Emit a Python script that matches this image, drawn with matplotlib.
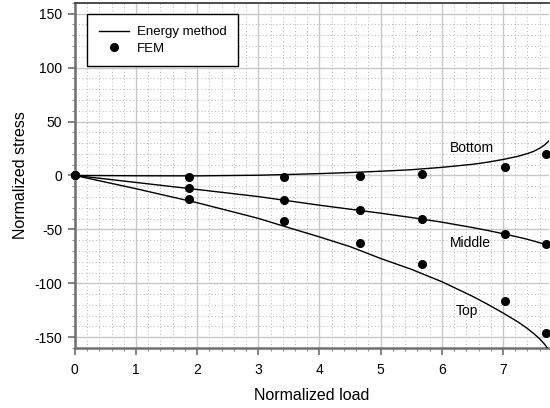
import matplotlib
matplotlib.use("Agg")
import matplotlib.pyplot as plt
from matplotlib.ticker import MultipleLocator

plt.rcParams["font.family"] = ["Liberation Sans", "DejaVu Sans"]
plt.rcParams["axes.unicode_minus"] = False

# energy method curves
energy_load = [0, 1, 2, 3, 3.5, 4, 4.5, 5, 5.5, 6, 6.5, 6.75, 7, 7.25, 7.4, 7.5, 7.6, 7.68, 7.75]
energy_bottom = [0, -0.3, -0.4, 0.2, 0.9, 1.7, 2.7, 3.9, 5.3, 7.5, 10.3, 12.3, 14.8, 17.8, 20.3, 22.3, 25.2, 28.3, 32]
energy_middle = [0, -6.5, -13, -19.6, -23.6, -27.6, -31.3, -35, -39, -43.3, -48.3, -51, -54, -57.2, -59.2, -60.8, -62.4, -63.8, -65.2]
energy_top = [0, -12.3, -25.3, -39.8, -48.5, -57, -66, -77, -87, -98.5, -112, -119.5, -127.5, -136, -142, -146.5, -151.5, -156.5, -162]

# FEM results
fem_load = [0, 1.87, 3.42, 4.67, 5.67, 7.03, 7.70]
fem_bottom = [0, -1.0, -1.3, -0.7, 1.2, 8.0, 19.7]
fem_middle = [0, -11.5, -22.6, -32.1, -40.5, -54.5, -63.6]
fem_top = [0, -22.0, -42.6, -63.0, -81.9, -116.3, -145.9]

curve_labels = ["Bottom", "Middle", "Top"]
label_pos = [(6.49, 25), (6.46, -63), (6.41, -126)]

fig = plt.figure(figsize=(5.5, 4.08), dpi=100)
ax = fig.add_axes([0.136, 0.147, 0.862, 0.846])

for i, ys in enumerate([energy_bottom, energy_middle, energy_top]):
    ax.plot(energy_load, ys, color="black", lw=1.0,
            label="Energy method" if i == 0 else None, zorder=3)
for i, ys in enumerate([fem_bottom, fem_middle, fem_top]):
    ax.plot(fem_load, ys, "o", color="black", ms=5.5, ls="none",
            label="FEM" if i == 0 else None, zorder=4, clip_on=False)

for txt, (lx, ly) in zip(curve_labels, label_pos):
    ax.text(lx, ly, txt, fontsize=10, ha="center", va="center")

ax.set_xlim(0, 7.75)
ax.set_ylim(-160, 160)
ax.xaxis.set_major_locator(MultipleLocator(1))
ax.xaxis.set_minor_locator(MultipleLocator(0.2))
ax.yaxis.set_major_locator(MultipleLocator(50))
ax.yaxis.set_minor_locator(MultipleLocator(10))
ax.grid(which="major", color="#c8c8c8", lw=1.0, ls="-")
ax.grid(which="minor", color="#b4b4b4", lw=0.7, ls=(0, (1, 2.5)))
ax.set_axisbelow(True)

for s in ["left", "bottom"]:
    ax.spines[s].set_color("#707070")
    ax.spines[s].set_linewidth(1.8)
ax.spines["top"].set_color("#404040")
ax.spines["top"].set_linewidth(1.3)
ax.spines["right"].set_visible(False)
ax.tick_params(which="major", direction="out", length=5, width=1.2,
               color="#707070", labelsize=10, labelcolor="black", pad=4)
ax.tick_params(which="minor", direction="out", length=2, width=0.8,
               color="#909090")
ax.tick_params(axis="x", which="major", pad=6)
ax.tick_params(top=False, right=False, which="both")

ax.set_xlabel("Normalized load", fontsize=11.5, labelpad=8)
ax.set_ylabel("Normalized stress", fontsize=11.5, labelpad=5)

leg = ax.legend(loc="upper left", bbox_to_anchor=(0.025, 0.967), fontsize=9.5,
                frameon=True, fancybox=False, handlelength=2.3,
                handletextpad=0.6, borderpad=0.9, labelspacing=0.3,
                borderaxespad=0)
leg.get_frame().set_edgecolor("black")
leg.get_frame().set_linewidth(1.0)
leg.get_frame().set_alpha(1)

fig.savefig("out.png", dpi=100)
